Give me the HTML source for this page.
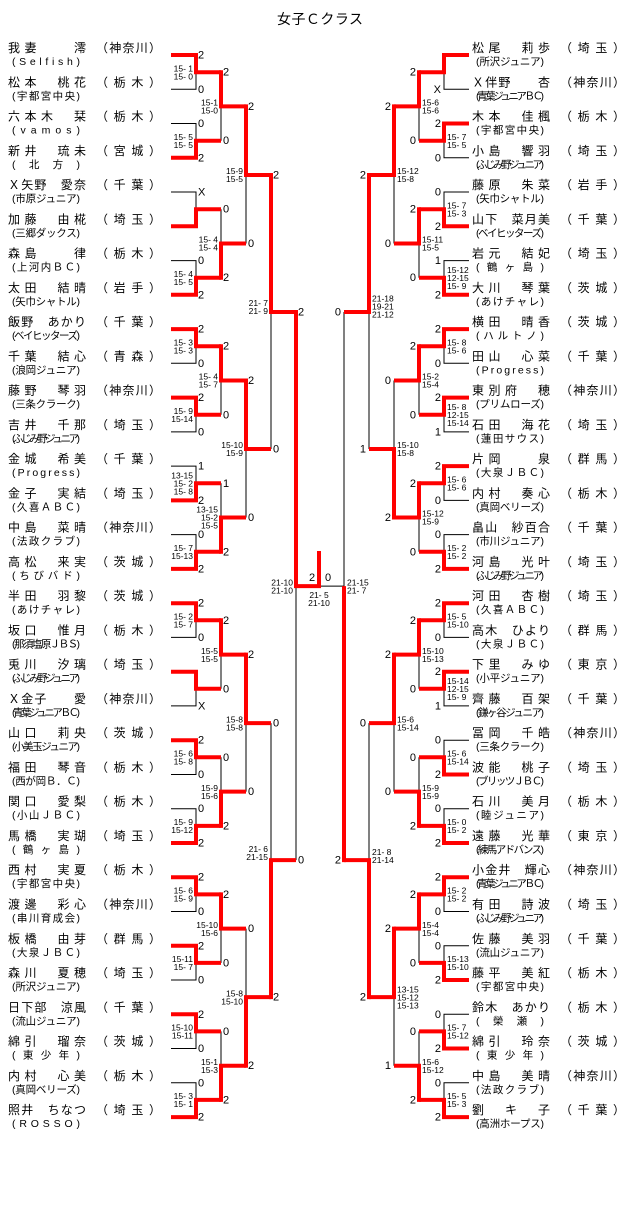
<!DOCTYPE html>
<html><head><meta charset="utf-8"><style>
html,body{margin:0;padding:0;background:#fff;}
svg{display:block;}
text{font-family:"Liberation Sans","Noto Sans CJK JP",sans-serif;fill:#000;white-space:pre;}
.n{font-size:12px;}
.c{font-size:10.5px;}
.d{font-size:11px;}
.s{font-size:8.5px;}
.r{stroke:#f00;stroke-width:4;fill:none;stroke-linejoin:miter;}
.k{stroke:#000;stroke-width:1;fill:none;}
</style></head><body>
<svg width="640" height="1205" viewBox="0 0 640 1205" xmlns="http://www.w3.org/2000/svg">
<text x="277" y="24" style="font-size:14px" textLength="86">女子Ｃクラス</text>

<!-- LEFT NAMES -->
<g transform="translate(0,55)"><text class="n" x="8" y="-3" textLength="78">我妻　　澪</text><text class="n" x="96" y="-3" textLength="65">（神奈川）</text><text class="c" x="12" y="10" textLength="68">(Selfish)</text></g>
<g transform="translate(0,89.3)"><text class="n" x="8" y="-3" textLength="78">松本　桃花</text><text class="n" x="96" y="-3" textLength="65">（栃木）</text><text class="c" x="12" y="10" textLength="68">(宇都宮中央)</text></g>
<g transform="translate(0,123.5)"><text class="n" x="8" y="-3" textLength="78">六本木　栞</text><text class="n" x="96" y="-3" textLength="65">（栃木）</text><text class="c" x="12" y="10" textLength="68">(vamos)</text></g>
<g transform="translate(0,157.8)"><text class="n" x="8" y="-3" textLength="78">新井　琉未</text><text class="n" x="96" y="-3" textLength="65">（宮城）</text><text class="c" x="12" y="10" textLength="68">(北方)</text></g>
<g transform="translate(0,192)"><text class="n" x="8" y="-3" textLength="78">Ｘ矢野　愛奈</text><text class="n" x="96" y="-3" textLength="65">（千葉）</text><text class="c" x="12" y="10" textLength="68">(市原ジュニア)</text></g>
<g transform="translate(0,226.3)"><text class="n" x="8" y="-3" textLength="78">加藤　由椛</text><text class="n" x="96" y="-3" textLength="65">（埼玉）</text><text class="c" x="12" y="10" textLength="68">(三郷ダックス)</text></g>
<g transform="translate(0,260.6)"><text class="n" x="8" y="-3" textLength="78">森島　　律</text><text class="n" x="96" y="-3" textLength="65">（栃木）</text><text class="c" x="12" y="10" textLength="68">(上河内ＢＣ)</text></g>
<g transform="translate(0,294.8)"><text class="n" x="8" y="-3" textLength="78">太田　結晴</text><text class="n" x="96" y="-3" textLength="65">（岩手）</text><text class="c" x="12" y="10" textLength="68">(矢巾シャトル)</text></g>
<g transform="translate(0,329.1)"><text class="n" x="8" y="-3" textLength="78">飯野　あかり</text><text class="n" x="96" y="-3" textLength="65">（千葉）</text><text class="c" x="12" y="10" textLength="68">(ベイヒッターズ)</text></g>
<g transform="translate(0,363.3)"><text class="n" x="8" y="-3" textLength="78">千葉　結心</text><text class="n" x="96" y="-3" textLength="65">（青森）</text><text class="c" x="12" y="10" textLength="68">(浪岡ジュニア)</text></g>
<g transform="translate(0,397.6)"><text class="n" x="8" y="-3" textLength="78">藤野　琴羽</text><text class="n" x="96" y="-3" textLength="65">（神奈川）</text><text class="c" x="12" y="10" textLength="68">(三条クラーク)</text></g>
<g transform="translate(0,431.9)"><text class="n" x="8" y="-3" textLength="78">吉井　千那</text><text class="n" x="96" y="-3" textLength="65">（埼玉）</text><text class="c" x="12" y="10" textLength="68">(ふじみ野ジュニア)</text></g>
<g transform="translate(0,466.1)"><text class="n" x="8" y="-3" textLength="78">金城　希美</text><text class="n" x="96" y="-3" textLength="65">（千葉）</text><text class="c" x="12" y="10" textLength="68">(Progress)</text></g>
<g transform="translate(0,500.4)"><text class="n" x="8" y="-3" textLength="78">金子　実結</text><text class="n" x="96" y="-3" textLength="65">（埼玉）</text><text class="c" x="12" y="10" textLength="68">(久喜ＡＢＣ)</text></g>
<g transform="translate(0,534.6)"><text class="n" x="8" y="-3" textLength="78">中島　菜晴</text><text class="n" x="96" y="-3" textLength="65">（神奈川）</text><text class="c" x="12" y="10" textLength="68">(法政クラブ)</text></g>
<g transform="translate(0,568.9)"><text class="n" x="8" y="-3" textLength="78">高松　来実</text><text class="n" x="96" y="-3" textLength="65">（茨城）</text><text class="c" x="12" y="10" textLength="68">(ちびバド)</text></g>
<g transform="translate(0,603.2)"><text class="n" x="8" y="-3" textLength="78">半田　羽黎</text><text class="n" x="96" y="-3" textLength="65">（茨城）</text><text class="c" x="12" y="10" textLength="68">(あけチャレ)</text></g>
<g transform="translate(0,637.4)"><text class="n" x="8" y="-3" textLength="78">坂口　惟月</text><text class="n" x="96" y="-3" textLength="65">（栃木）</text><text class="c" x="12" y="10" textLength="68">(那須塩原ＪＢＳ)</text></g>
<g transform="translate(0,671.7)"><text class="n" x="8" y="-3" textLength="78">兎川　汐璃</text><text class="n" x="96" y="-3" textLength="65">（埼玉）</text><text class="c" x="12" y="10" textLength="68">(ふじみ野ジュニア)</text></g>
<g transform="translate(0,705.9)"><text class="n" x="8" y="-3" textLength="78">Ｘ金子　　愛</text><text class="n" x="96" y="-3" textLength="65">（神奈川）</text><text class="c" x="12" y="10" textLength="68">(青葉ジュニアＢＣ)</text></g>
<g transform="translate(0,740.2)"><text class="n" x="8" y="-3" textLength="78">山口　莉央</text><text class="n" x="96" y="-3" textLength="65">（茨城）</text><text class="c" x="12" y="10" textLength="68">(小美玉ジュニア)</text></g>
<g transform="translate(0,774.5)"><text class="n" x="8" y="-3" textLength="78">福田　琴音</text><text class="n" x="96" y="-3" textLength="65">（栃木）</text><text class="c" x="12" y="10" textLength="68">(西が岡Ｂ．Ｃ)</text></g>
<g transform="translate(0,808.7)"><text class="n" x="8" y="-3" textLength="78">関口　愛梨</text><text class="n" x="96" y="-3" textLength="65">（栃木）</text><text class="c" x="12" y="10" textLength="68">(小山ＪＢＣ)</text></g>
<g transform="translate(0,843)"><text class="n" x="8" y="-3" textLength="78">馬橋　実瑚</text><text class="n" x="96" y="-3" textLength="65">（埼玉）</text><text class="c" x="12" y="10" textLength="68">(鶴ヶ島)</text></g>
<g transform="translate(0,877.2)"><text class="n" x="8" y="-3" textLength="78">西村　実夏</text><text class="n" x="96" y="-3" textLength="65">（栃木）</text><text class="c" x="12" y="10" textLength="68">(宇都宮中央)</text></g>
<g transform="translate(0,911.5)"><text class="n" x="8" y="-3" textLength="78">渡邊　彩心</text><text class="n" x="96" y="-3" textLength="65">（神奈川）</text><text class="c" x="12" y="10" textLength="68">(串川育成会)</text></g>
<g transform="translate(0,945.8)"><text class="n" x="8" y="-3" textLength="78">板橋　由芽</text><text class="n" x="96" y="-3" textLength="65">（群馬）</text><text class="c" x="12" y="10" textLength="68">(大泉ＪＢＣ)</text></g>
<g transform="translate(0,980)"><text class="n" x="8" y="-3" textLength="78">森川　夏穂</text><text class="n" x="96" y="-3" textLength="65">（埼玉）</text><text class="c" x="12" y="10" textLength="68">(所沢ジュニア)</text></g>
<g transform="translate(0,1014.3)"><text class="n" x="8" y="-3" textLength="78">日下部　涼風</text><text class="n" x="96" y="-3" textLength="65">（千葉）</text><text class="c" x="12" y="10" textLength="68">(流山ジュニア)</text></g>
<g transform="translate(0,1048.5)"><text class="n" x="8" y="-3" textLength="78">綿引　瑠奈</text><text class="n" x="96" y="-3" textLength="65">（茨城）</text><text class="c" x="12" y="10" textLength="68">(東少年)</text></g>
<g transform="translate(0,1082.8)"><text class="n" x="8" y="-3" textLength="78">内村　心美</text><text class="n" x="96" y="-3" textLength="65">（栃木）</text><text class="c" x="12" y="10" textLength="68">(真岡ベリーズ)</text></g>
<g transform="translate(0,1117.1)"><text class="n" x="8" y="-3" textLength="78">照井　ちなつ</text><text class="n" x="96" y="-3" textLength="65">（埼玉）</text><text class="c" x="12" y="10" textLength="68">(ROSSO)</text></g>

<!-- RIGHT NAMES -->
<g transform="translate(0,55)"><text class="n" x="472" y="-3" textLength="78">松尾　莉歩</text><text class="n" x="560" y="-3" textLength="65">（埼玉）</text><text class="c" x="476" y="10" textLength="68">(所沢ジュニア)</text></g>
<g transform="translate(0,89.3)"><text class="n" x="472" y="-3" textLength="78">Ｘ伴野　　杏</text><text class="n" x="560" y="-3" textLength="65">（神奈川）</text><text class="c" x="476" y="10" textLength="68">(青葉ジュニアＢＣ)</text></g>
<g transform="translate(0,123.5)"><text class="n" x="472" y="-3" textLength="78">木本　佳楓</text><text class="n" x="560" y="-3" textLength="65">（栃木）</text><text class="c" x="476" y="10" textLength="68">(宇都宮中央)</text></g>
<g transform="translate(0,157.8)"><text class="n" x="472" y="-3" textLength="78">小島　響羽</text><text class="n" x="560" y="-3" textLength="65">（埼玉）</text><text class="c" x="476" y="10" textLength="68">(ふじみ野ジュニア)</text></g>
<g transform="translate(0,192)"><text class="n" x="472" y="-3" textLength="78">藤原　朱菜</text><text class="n" x="560" y="-3" textLength="65">（岩手）</text><text class="c" x="476" y="10" textLength="68">(矢巾シャトル)</text></g>
<g transform="translate(0,226.3)"><text class="n" x="472" y="-3" textLength="78">山下　菜月美</text><text class="n" x="560" y="-3" textLength="65">（千葉）</text><text class="c" x="476" y="10" textLength="68">(ベイヒッターズ)</text></g>
<g transform="translate(0,260.6)"><text class="n" x="472" y="-3" textLength="78">岩元　結妃</text><text class="n" x="560" y="-3" textLength="65">（埼玉）</text><text class="c" x="476" y="10" textLength="68">(鶴ヶ島)</text></g>
<g transform="translate(0,294.8)"><text class="n" x="472" y="-3" textLength="78">大川　琴葉</text><text class="n" x="560" y="-3" textLength="65">（茨城）</text><text class="c" x="476" y="10" textLength="68">(あけチャレ)</text></g>
<g transform="translate(0,329.1)"><text class="n" x="472" y="-3" textLength="78">横田　晴香</text><text class="n" x="560" y="-3" textLength="65">（茨城）</text><text class="c" x="476" y="10" textLength="68">(ハルトノ)</text></g>
<g transform="translate(0,363.3)"><text class="n" x="472" y="-3" textLength="78">田山　心菜</text><text class="n" x="560" y="-3" textLength="65">（千葉）</text><text class="c" x="476" y="10" textLength="68">(Progress)</text></g>
<g transform="translate(0,397.6)"><text class="n" x="472" y="-3" textLength="78">東別府　穂</text><text class="n" x="560" y="-3" textLength="65">（神奈川）</text><text class="c" x="476" y="10" textLength="68">(プリムローズ)</text></g>
<g transform="translate(0,431.9)"><text class="n" x="472" y="-3" textLength="78">石田　海花</text><text class="n" x="560" y="-3" textLength="65">（埼玉）</text><text class="c" x="476" y="10" textLength="68">(蓮田サウス)</text></g>
<g transform="translate(0,466.1)"><text class="n" x="472" y="-3" textLength="78">片岡　　泉</text><text class="n" x="560" y="-3" textLength="65">（群馬）</text><text class="c" x="476" y="10" textLength="68">(大泉ＪＢＣ)</text></g>
<g transform="translate(0,500.4)"><text class="n" x="472" y="-3" textLength="78">内村　奏心</text><text class="n" x="560" y="-3" textLength="65">（栃木）</text><text class="c" x="476" y="10" textLength="68">(真岡ベリーズ)</text></g>
<g transform="translate(0,534.6)"><text class="n" x="472" y="-3" textLength="78">畠山　紗百合</text><text class="n" x="560" y="-3" textLength="65">（千葉）</text><text class="c" x="476" y="10" textLength="68">(市川ジュニア)</text></g>
<g transform="translate(0,568.9)"><text class="n" x="472" y="-3" textLength="78">河島　光叶</text><text class="n" x="560" y="-3" textLength="65">（埼玉）</text><text class="c" x="476" y="10" textLength="68">(ふじみ野ジュニア)</text></g>
<g transform="translate(0,603.2)"><text class="n" x="472" y="-3" textLength="78">河田　杏樹</text><text class="n" x="560" y="-3" textLength="65">（埼玉）</text><text class="c" x="476" y="10" textLength="68">(久喜ＡＢＣ)</text></g>
<g transform="translate(0,637.4)"><text class="n" x="472" y="-3" textLength="78">高木　ひより</text><text class="n" x="560" y="-3" textLength="65">（群馬）</text><text class="c" x="476" y="10" textLength="68">(大泉ＪＢＣ)</text></g>
<g transform="translate(0,671.7)"><text class="n" x="472" y="-3" textLength="78">下里　みゆ</text><text class="n" x="560" y="-3" textLength="65">（東京）</text><text class="c" x="476" y="10" textLength="68">(小平ジュニア)</text></g>
<g transform="translate(0,705.9)"><text class="n" x="472" y="-3" textLength="78">齊藤　百架</text><text class="n" x="560" y="-3" textLength="65">（千葉）</text><text class="c" x="476" y="10" textLength="68">(鎌ヶ谷ジュニア)</text></g>
<g transform="translate(0,740.2)"><text class="n" x="472" y="-3" textLength="78">冨岡　千皓</text><text class="n" x="560" y="-3" textLength="65">（神奈川）</text><text class="c" x="476" y="10" textLength="68">(三条クラーク)</text></g>
<g transform="translate(0,774.5)"><text class="n" x="472" y="-3" textLength="78">波能　桃子</text><text class="n" x="560" y="-3" textLength="65">（埼玉）</text><text class="c" x="476" y="10" textLength="68">(ブリッツＪＢＣ)</text></g>
<g transform="translate(0,808.7)"><text class="n" x="472" y="-3" textLength="78">石川　美月</text><text class="n" x="560" y="-3" textLength="65">（栃木）</text><text class="c" x="476" y="10" textLength="68">(睦ジュニア)</text></g>
<g transform="translate(0,843)"><text class="n" x="472" y="-3" textLength="78">遠藤　光華</text><text class="n" x="560" y="-3" textLength="65">（東京）</text><text class="c" x="476" y="10" textLength="68">(練馬アドバンス)</text></g>
<g transform="translate(0,877.2)"><text class="n" x="472" y="-3" textLength="78">小金井　輝心</text><text class="n" x="560" y="-3" textLength="65">（神奈川）</text><text class="c" x="476" y="10" textLength="68">(青葉ジュニアＢＣ)</text></g>
<g transform="translate(0,911.5)"><text class="n" x="472" y="-3" textLength="78">有田　詩波</text><text class="n" x="560" y="-3" textLength="65">（埼玉）</text><text class="c" x="476" y="10" textLength="68">(ふじみ野ジュニア)</text></g>
<g transform="translate(0,945.8)"><text class="n" x="472" y="-3" textLength="78">佐藤　美羽</text><text class="n" x="560" y="-3" textLength="65">（千葉）</text><text class="c" x="476" y="10" textLength="68">(流山ジュニア)</text></g>
<g transform="translate(0,980)"><text class="n" x="472" y="-3" textLength="78">藤平　美紅</text><text class="n" x="560" y="-3" textLength="65">（栃木）</text><text class="c" x="476" y="10" textLength="68">(宇都宮中央)</text></g>
<g transform="translate(0,1014.3)"><text class="n" x="472" y="-3" textLength="78">鈴木　あかり</text><text class="n" x="560" y="-3" textLength="65">（栃木）</text><text class="c" x="476" y="10" textLength="68">(榮瀬)</text></g>
<g transform="translate(0,1048.5)"><text class="n" x="472" y="-3" textLength="78">綿引　玲奈</text><text class="n" x="560" y="-3" textLength="65">（茨城）</text><text class="c" x="476" y="10" textLength="68">(東少年)</text></g>
<g transform="translate(0,1082.8)"><text class="n" x="472" y="-3" textLength="78">中島　美晴</text><text class="n" x="560" y="-3" textLength="65">（神奈川）</text><text class="c" x="476" y="10" textLength="68">(法政クラブ)</text></g>
<g transform="translate(0,1117.1)"><text class="n" x="472" y="-3" textLength="78">劉　キ　子</text><text class="n" x="560" y="-3" textLength="65">（千葉）</text><text class="c" x="476" y="10" textLength="68">(高洲ホープス)</text></g>

<!-- BLACK LINES LEFT -->
<g class="k">
<polyline points="171,89.3 196,89.3 196,72.2"/>
<polyline points="171,123.5 196,123.5 196,140.7"/>
<polyline points="171,192 196,192 196,209.2"/>
<polyline points="171,260.6 196,260.6 196,277.7"/>
<polyline points="171,363.3 196,363.3 196,346.2"/>
<polyline points="171,431.9 196,431.9 196,414.8"/>
<polyline points="171,466.1 196,466.1 196,483.3"/>
<polyline points="171,534.6 196,534.6 196,551.8"/>
<polyline points="171,637.4 196,637.4 196,620.3"/>
<polyline points="171,705.9 196,705.9 196,688.8"/>
<polyline points="171,774.5 196,774.5 196,757.3"/>
<polyline points="171,808.7 196,808.7 196,825.9"/>
<polyline points="171,911.5 196,911.5 196,894.4"/>
<polyline points="171,980 196,980 196,962.9"/>
<polyline points="171,1048.5 196,1048.5 196,1031.4"/>
<polyline points="171,1082.8 196,1082.8 196,1099.9"/>
<polyline points="221,140.7 221,106.4"/>
<polyline points="221,209.2 221,243.5"/>
<polyline points="221,414.8 221,380.5"/>
<polyline points="221,483.3 221,517.5"/>
<polyline points="221,688.8 221,654.6"/>
<polyline points="221,757.3 221,791.6"/>
<polyline points="221,962.9 221,928.6"/>
<polyline points="221,1031.4 221,1065.7"/>
<polyline points="246,243.5 246,175"/>
<polyline points="246,517.5 246,449"/>
<polyline points="246,791.6 246,723.1"/>
<polyline points="246,928.6 246,997.1"/>
<polyline points="271,449 271,312"/>
<polyline points="271,723.1 271,860.1"/>
<polyline points="296,860.1 296,586.1"/>
</g>
<!-- BLACK LINES RIGHT -->
<g class="k">
<polyline points="469,89.3 444,89.3 444,72.2"/>
<polyline points="469,157.8 444,157.8 444,140.7"/>
<polyline points="469,192 444,192 444,209.2"/>
<polyline points="469,260.6 444,260.6 444,277.7"/>
<polyline points="469,363.3 444,363.3 444,346.2"/>
<polyline points="469,431.9 444,431.9 444,414.8"/>
<polyline points="469,500.4 444,500.4 444,483.3"/>
<polyline points="469,534.6 444,534.6 444,551.8"/>
<polyline points="469,637.4 444,637.4 444,620.3"/>
<polyline points="469,705.9 444,705.9 444,688.8"/>
<polyline points="469,740.2 444,740.2 444,757.3"/>
<polyline points="469,808.7 444,808.7 444,825.9"/>
<polyline points="469,911.5 444,911.5 444,894.4"/>
<polyline points="469,945.8 444,945.8 444,962.9"/>
<polyline points="469,1014.3 444,1014.3 444,1031.4"/>
<polyline points="469,1082.8 444,1082.8 444,1099.9"/>
<polyline points="419,140.7 419,106.4"/>
<polyline points="419,277.7 419,243.5"/>
<polyline points="419,414.8 419,380.5"/>
<polyline points="419,551.8 419,517.5"/>
<polyline points="419,688.8 419,654.6"/>
<polyline points="419,757.3 419,791.6"/>
<polyline points="419,962.9 419,928.6"/>
<polyline points="419,1031.4 419,1065.7"/>
<polyline points="394,243.5 394,175"/>
<polyline points="394,380.5 394,449"/>
<polyline points="394,791.6 394,723.1"/>
<polyline points="394,1065.7 394,997.1"/>
<polyline points="369,449 369,312"/>
<polyline points="369,723.1 369,860.1"/>
<polyline points="344,312 344,586.1 319,586.1"/>
</g>

<!-- RED LEFT -->
<g class="r">
<polyline points="171,55 196,55 196,72.2 221,72.2"/>
<polyline points="171,157.8 196,157.8 196,140.7 221,140.7"/>
<polyline points="171,226.3 196,226.3 196,209.2 221,209.2"/>
<polyline points="171,294.8 196,294.8 196,277.7 221,277.7"/>
<polyline points="171,329.1 196,329.1 196,346.2 221,346.2"/>
<polyline points="171,397.6 196,397.6 196,414.8 221,414.8"/>
<polyline points="171,500.4 196,500.4 196,483.3 221,483.3"/>
<polyline points="171,568.9 196,568.9 196,551.8 221,551.8"/>
<polyline points="171,603.2 196,603.2 196,620.3 221,620.3"/>
<polyline points="171,671.7 196,671.7 196,688.8 221,688.8"/>
<polyline points="171,740.2 196,740.2 196,757.3 221,757.3"/>
<polyline points="171,843 196,843 196,825.9 221,825.9"/>
<polyline points="171,877.2 196,877.2 196,894.4 221,894.4"/>
<polyline points="171,945.8 196,945.8 196,962.9 221,962.9"/>
<polyline points="171,1014.3 196,1014.3 196,1031.4 221,1031.4"/>
<polyline points="171,1117.1 196,1117.1 196,1099.9 221,1099.9"/>
<polyline points="219,72.2 221,72.2 221,106.4 246,106.4"/>
<polyline points="219,277.7 221,277.7 221,243.5 246,243.5"/>
<polyline points="219,346.2 221,346.2 221,380.5 246,380.5"/>
<polyline points="219,551.8 221,551.8 221,517.5 246,517.5"/>
<polyline points="219,620.3 221,620.3 221,654.6 246,654.6"/>
<polyline points="219,825.9 221,825.9 221,791.6 246,791.6"/>
<polyline points="219,894.4 221,894.4 221,928.6 246,928.6"/>
<polyline points="219,1099.9 221,1099.9 221,1065.7 246,1065.7"/>
<polyline points="244,106.4 246,106.4 246,175 271,175"/>
<polyline points="244,380.5 246,380.5 246,449 271,449"/>
<polyline points="244,654.6 246,654.6 246,723.1 271,723.1"/>
<polyline points="244,1065.7 246,1065.7 246,997.1 271,997.1"/>
<polyline points="269,175 271,175 271,312 296,312"/>
<polyline points="269,997.1 271,997.1 271,860.1 296,860.1"/>
<polyline points="294,312 296,312 296,586.1 319,586.1 319,551"/>
</g>
<!-- RED RIGHT -->
<g class="r">
<polyline points="469,55 444,55 444,72.2 419,72.2"/>
<polyline points="469,123.5 444,123.5 444,140.7 419,140.7"/>
<polyline points="469,226.3 444,226.3 444,209.2 419,209.2"/>
<polyline points="469,294.8 444,294.8 444,277.7 419,277.7"/>
<polyline points="469,329.1 444,329.1 444,346.2 419,346.2"/>
<polyline points="469,397.6 444,397.6 444,414.8 419,414.8"/>
<polyline points="469,466.1 444,466.1 444,483.3 419,483.3"/>
<polyline points="469,568.9 444,568.9 444,551.8 419,551.8"/>
<polyline points="469,603.2 444,603.2 444,620.3 419,620.3"/>
<polyline points="469,671.7 444,671.7 444,688.8 419,688.8"/>
<polyline points="469,774.5 444,774.5 444,757.3 419,757.3"/>
<polyline points="469,843 444,843 444,825.9 419,825.9"/>
<polyline points="469,877.2 444,877.2 444,894.4 419,894.4"/>
<polyline points="469,980 444,980 444,962.9 419,962.9"/>
<polyline points="469,1048.5 444,1048.5 444,1031.4 419,1031.4"/>
<polyline points="469,1117.1 444,1117.1 444,1099.9 419,1099.9"/>
<polyline points="421,72.2 419,72.2 419,106.4 394,106.4"/>
<polyline points="421,209.2 419,209.2 419,243.5 394,243.5"/>
<polyline points="421,346.2 419,346.2 419,380.5 394,380.5"/>
<polyline points="421,483.3 419,483.3 419,517.5 394,517.5"/>
<polyline points="421,620.3 419,620.3 419,654.6 394,654.6"/>
<polyline points="421,825.9 419,825.9 419,791.6 394,791.6"/>
<polyline points="421,894.4 419,894.4 419,928.6 394,928.6"/>
<polyline points="421,1099.9 419,1099.9 419,1065.7 394,1065.7"/>
<polyline points="396,106.4 394,106.4 394,175 369,175"/>
<polyline points="396,517.5 394,517.5 394,449 369,449"/>
<polyline points="396,654.6 394,654.6 394,723.1 369,723.1"/>
<polyline points="396,928.6 394,928.6 394,997.1 369,997.1"/>
<polyline points="371,175 369,175 369,312 344,312"/>
<polyline points="371,997.1 369,997.1 369,860.1 344,860.1"/>
<polyline points="346,860.1 344,860.1 344,586.1"/>
</g>

<!-- NUMBERS LEFT -->
<g class="d">
<text x="198" y="58.5">2</text><text x="198" y="92.8">0</text><text x="198" y="127">0</text><text x="198" y="161.3">2</text>
<text x="198" y="195.5">X</text><text x="198" y="264.1">0</text><text x="198" y="298.3">2</text>
<text x="198" y="332.6">2</text><text x="198" y="366.8">0</text><text x="198" y="401.1">2</text><text x="198" y="435.4">0</text>
<text x="198" y="469.6">1</text><text x="198" y="503.9">2</text><text x="198" y="538.1">0</text><text x="198" y="572.4">2</text>
<text x="198" y="606.7">2</text><text x="198" y="640.9">0</text><text x="198" y="709.4">X</text>
<text x="198" y="743.7">2</text><text x="198" y="778">0</text><text x="198" y="812.2">0</text><text x="198" y="846.5">2</text>
<text x="198" y="880.7">2</text><text x="198" y="915">0</text><text x="198" y="949.3">2</text><text x="198" y="983.5">0</text>
<text x="198" y="1017.8">2</text><text x="198" y="1052">0</text><text x="198" y="1086.3">0</text><text x="198" y="1120.6">2</text>
<text x="223" y="75.7">2</text><text x="223" y="144.2">0</text><text x="223" y="212.7">0</text><text x="223" y="281.2">2</text>
<text x="223" y="349.7">2</text><text x="223" y="418.3">0</text><text x="223" y="486.8">1</text><text x="223" y="555.3">2</text>
<text x="223" y="623.8">2</text><text x="223" y="692.3">0</text><text x="223" y="760.8">0</text><text x="223" y="829.4">2</text>
<text x="223" y="897.9">2</text><text x="223" y="966.4">0</text><text x="223" y="1034.9">0</text><text x="223" y="1103.4">2</text>
<text x="248" y="109.9">2</text><text x="248" y="247">0</text><text x="248" y="384">2</text><text x="248" y="521">0</text>
<text x="248" y="658.1">2</text><text x="248" y="795.1">0</text><text x="248" y="932.1">0</text><text x="248" y="1069.2">2</text>
<text x="273" y="178.5">2</text><text x="273" y="452.5">0</text><text x="273" y="726.6">0</text><text x="273" y="1000.6">2</text>
<text x="298" y="315.5">2</text><text x="298" y="863.6">0</text>
<text x="312" y="581" text-anchor="middle">2</text><text x="328" y="581" text-anchor="middle">0</text>
</g>
<!-- NUMBERS RIGHT -->
<g class="d" text-anchor="end">
<text x="441" y="92.8">X</text><text x="441" y="127">2</text><text x="441" y="161.3">0</text>
<text x="441" y="195.5">0</text><text x="441" y="229.8">2</text><text x="441" y="264.1">1</text><text x="441" y="298.3">2</text>
<text x="441" y="332.6">2</text><text x="441" y="366.8">0</text><text x="441" y="401.1">2</text><text x="441" y="435.4">1</text>
<text x="441" y="469.6">2</text><text x="441" y="503.9">0</text><text x="441" y="538.1">0</text><text x="441" y="572.4">2</text>
<text x="441" y="606.7">2</text><text x="441" y="640.9">0</text><text x="441" y="675.2">2</text><text x="441" y="709.4">1</text>
<text x="441" y="743.7">0</text><text x="441" y="778">2</text><text x="441" y="812.2">0</text><text x="441" y="846.5">2</text>
<text x="441" y="880.7">2</text><text x="441" y="915">0</text><text x="441" y="949.3">0</text><text x="441" y="983.5">2</text>
<text x="441" y="1017.8">0</text><text x="441" y="1052">2</text><text x="441" y="1086.3">0</text><text x="441" y="1120.6">2</text>
<text x="416" y="75.7">2</text><text x="416" y="144.2">0</text><text x="416" y="212.7">2</text><text x="416" y="281.2">0</text>
<text x="416" y="349.7">2</text><text x="416" y="418.3">0</text><text x="416" y="486.8">2</text><text x="416" y="555.3">0</text>
<text x="416" y="623.8">2</text><text x="416" y="692.3">0</text><text x="416" y="760.8">0</text><text x="416" y="829.4">2</text>
<text x="416" y="897.9">2</text><text x="416" y="966.4">0</text><text x="416" y="1034.9">0</text><text x="416" y="1103.4">2</text>
<text x="391" y="109.9">2</text><text x="391" y="247">0</text><text x="391" y="384">0</text><text x="391" y="521">2</text>
<text x="391" y="658.1">2</text><text x="391" y="795.1">0</text><text x="391" y="932.1">2</text><text x="391" y="1069.2">1</text>
<text x="366" y="178.5">2</text><text x="366" y="452.5">1</text><text x="366" y="726.6">0</text><text x="366" y="1000.6">2</text>
<text x="341" y="315.5">0</text><text x="341" y="863.6">2</text>
</g>

<!-- SCORES LEFT -->
<g class="s" text-anchor="end">
<text y="71.4"><tspan x="193">15- 1</tspan><tspan x="193" dy="8">15- 0</tspan></text>
<text y="139.9"><tspan x="193">15- 5</tspan><tspan x="193" dy="8">15- 5</tspan></text>
<text y="276.9"><tspan x="193">15- 4</tspan><tspan x="193" dy="8">15- 5</tspan></text>
<text y="345.4"><tspan x="193">15- 3</tspan><tspan x="193" dy="8">15- 3</tspan></text>
<text y="414"><tspan x="193">15- 9</tspan><tspan x="193" dy="8">15-14</tspan></text>
<text y="478.5"><tspan x="193">13-15</tspan><tspan x="193" dy="8">15- 2</tspan><tspan x="193" dy="8">15- 8</tspan></text>
<text y="551"><tspan x="193">15- 7</tspan><tspan x="193" dy="8">15-13</tspan></text>
<text y="619.5"><tspan x="193">15- 2</tspan><tspan x="193" dy="8">15- 7</tspan></text>
<text y="756.5"><tspan x="193">15- 6</tspan><tspan x="193" dy="8">15- 8</tspan></text>
<text y="825.1"><tspan x="193">15- 9</tspan><tspan x="193" dy="8">15-12</tspan></text>
<text y="893.6"><tspan x="193">15- 6</tspan><tspan x="193" dy="8">15- 9</tspan></text>
<text y="962.1"><tspan x="193">15-11</tspan><tspan x="193" dy="8">15- 7</tspan></text>
<text y="1030.6"><tspan x="193">15-10</tspan><tspan x="193" dy="8">15-11</tspan></text>
<text y="1099.1"><tspan x="193">15- 3</tspan><tspan x="193" dy="8">15- 1</tspan></text>
<text y="105.6"><tspan x="218">15-1</tspan><tspan x="218" dy="8">15-0</tspan></text>
<text y="242.7"><tspan x="218">15- 4</tspan><tspan x="218" dy="8">15- 4</tspan></text>
<text y="379.7"><tspan x="218">15- 4</tspan><tspan x="218" dy="8">15- 7</tspan></text>
<text y="512.7"><tspan x="218">13-15</tspan><tspan x="218" dy="8">15-2</tspan><tspan x="218" dy="8">15-5</tspan></text>
<text y="653.8"><tspan x="218">15-5</tspan><tspan x="218" dy="8">15-5</tspan></text>
<text y="790.8"><tspan x="218">15-9</tspan><tspan x="218" dy="8">15-6</tspan></text>
<text y="927.8"><tspan x="218">15-10</tspan><tspan x="218" dy="8">15-6</tspan></text>
<text y="1064.9"><tspan x="218">15-1</tspan><tspan x="218" dy="8">15-3</tspan></text>
<text y="174.2"><tspan x="243">15-9</tspan><tspan x="243" dy="8">15-5</tspan></text>
<text y="448.2"><tspan x="243">15-10</tspan><tspan x="243" dy="8">15-9</tspan></text>
<text y="722.3"><tspan x="243">15-8</tspan><tspan x="243" dy="8">15-8</tspan></text>
<text y="996.3"><tspan x="243">15-8</tspan><tspan x="243" dy="8">15-10</tspan></text>
<text y="306"><tspan x="268">21- 7</tspan><tspan x="268" dy="8">21- 9</tspan></text>
<text y="852"><tspan x="268">21- 6</tspan><tspan x="268" dy="8">21-15</tspan></text>
<text y="585.3"><tspan x="293">21-10</tspan><tspan x="293" dy="8">21-10</tspan></text>
</g>
<g class="s" text-anchor="middle">
<text y="598"><tspan x="319">21- 5</tspan><tspan x="319" dy="8">21-10</tspan></text>
</g>
<!-- SCORES RIGHT -->
<g class="s">
<text y="139.9"><tspan x="447">15- 7</tspan><tspan x="447" dy="8">15- 5</tspan></text>
<text y="208.4"><tspan x="447">15- 7</tspan><tspan x="447" dy="8">15- 3</tspan></text>
<text y="272.9"><tspan x="447">15-12</tspan><tspan x="447" dy="8">12-15</tspan><tspan x="447" dy="8">15- 9</tspan></text>
<text y="345.4"><tspan x="447">15- 8</tspan><tspan x="447" dy="8">15- 6</tspan></text>
<text y="410"><tspan x="447">15- 8</tspan><tspan x="447" dy="8">12-15</tspan><tspan x="447" dy="8">15-14</tspan></text>
<text y="482.5"><tspan x="447">15- 6</tspan><tspan x="447" dy="8">15- 6</tspan></text>
<text y="551"><tspan x="447">15- 2</tspan><tspan x="447" dy="8">15- 2</tspan></text>
<text y="619.5"><tspan x="447">15- 5</tspan><tspan x="447" dy="8">15-10</tspan></text>
<text y="684"><tspan x="447">15-14</tspan><tspan x="447" dy="8">12-15</tspan><tspan x="447" dy="8">15- 9</tspan></text>
<text y="756.5"><tspan x="447">15- 6</tspan><tspan x="447" dy="8">15-14</tspan></text>
<text y="825.1"><tspan x="447">15- 0</tspan><tspan x="447" dy="8">15- 2</tspan></text>
<text y="893.6"><tspan x="447">15- 2</tspan><tspan x="447" dy="8">15- 2</tspan></text>
<text y="962.1"><tspan x="447">15-13</tspan><tspan x="447" dy="8">15-10</tspan></text>
<text y="1030.6"><tspan x="447">15- 7</tspan><tspan x="447" dy="8">15-12</tspan></text>
<text y="1099.1"><tspan x="447">15- 5</tspan><tspan x="447" dy="8">15- 3</tspan></text>
<text y="105.6"><tspan x="422">15-6</tspan><tspan x="422" dy="8">15-6</tspan></text>
<text y="242.7"><tspan x="422">15-11</tspan><tspan x="422" dy="8">15-5</tspan></text>
<text y="379.7"><tspan x="422">15-2</tspan><tspan x="422" dy="8">15-4</tspan></text>
<text y="516.7"><tspan x="422">15-12</tspan><tspan x="422" dy="8">15-9</tspan></text>
<text y="653.8"><tspan x="422">15-10</tspan><tspan x="422" dy="8">15-13</tspan></text>
<text y="790.8"><tspan x="422">15-9</tspan><tspan x="422" dy="8">15-9</tspan></text>
<text y="927.8"><tspan x="422">15-4</tspan><tspan x="422" dy="8">15-4</tspan></text>
<text y="1064.9"><tspan x="422">15-6</tspan><tspan x="422" dy="8">15-12</tspan></text>
<text y="174.2"><tspan x="397">15-12</tspan><tspan x="397" dy="8">15-8</tspan></text>
<text y="448.2"><tspan x="397">15-10</tspan><tspan x="397" dy="8">15-8</tspan></text>
<text y="722.3"><tspan x="397">15-6</tspan><tspan x="397" dy="8">15-14</tspan></text>
<text y="992.3"><tspan x="397">13-15</tspan><tspan x="397" dy="8">15-12</tspan><tspan x="397" dy="8">15-13</tspan></text>
<text y="301.5"><tspan x="372">21-18</tspan><tspan x="372" dy="8">19-21</tspan><tspan x="372" dy="8">21-12</tspan></text>
<text y="855.2"><tspan x="372">21- 8</tspan><tspan x="372" dy="8">21-14</tspan></text>
<text y="585.3"><tspan x="347">21-15</tspan><tspan x="347" dy="8">21- 7</tspan></text>
</g>
</svg>
</body></html>
